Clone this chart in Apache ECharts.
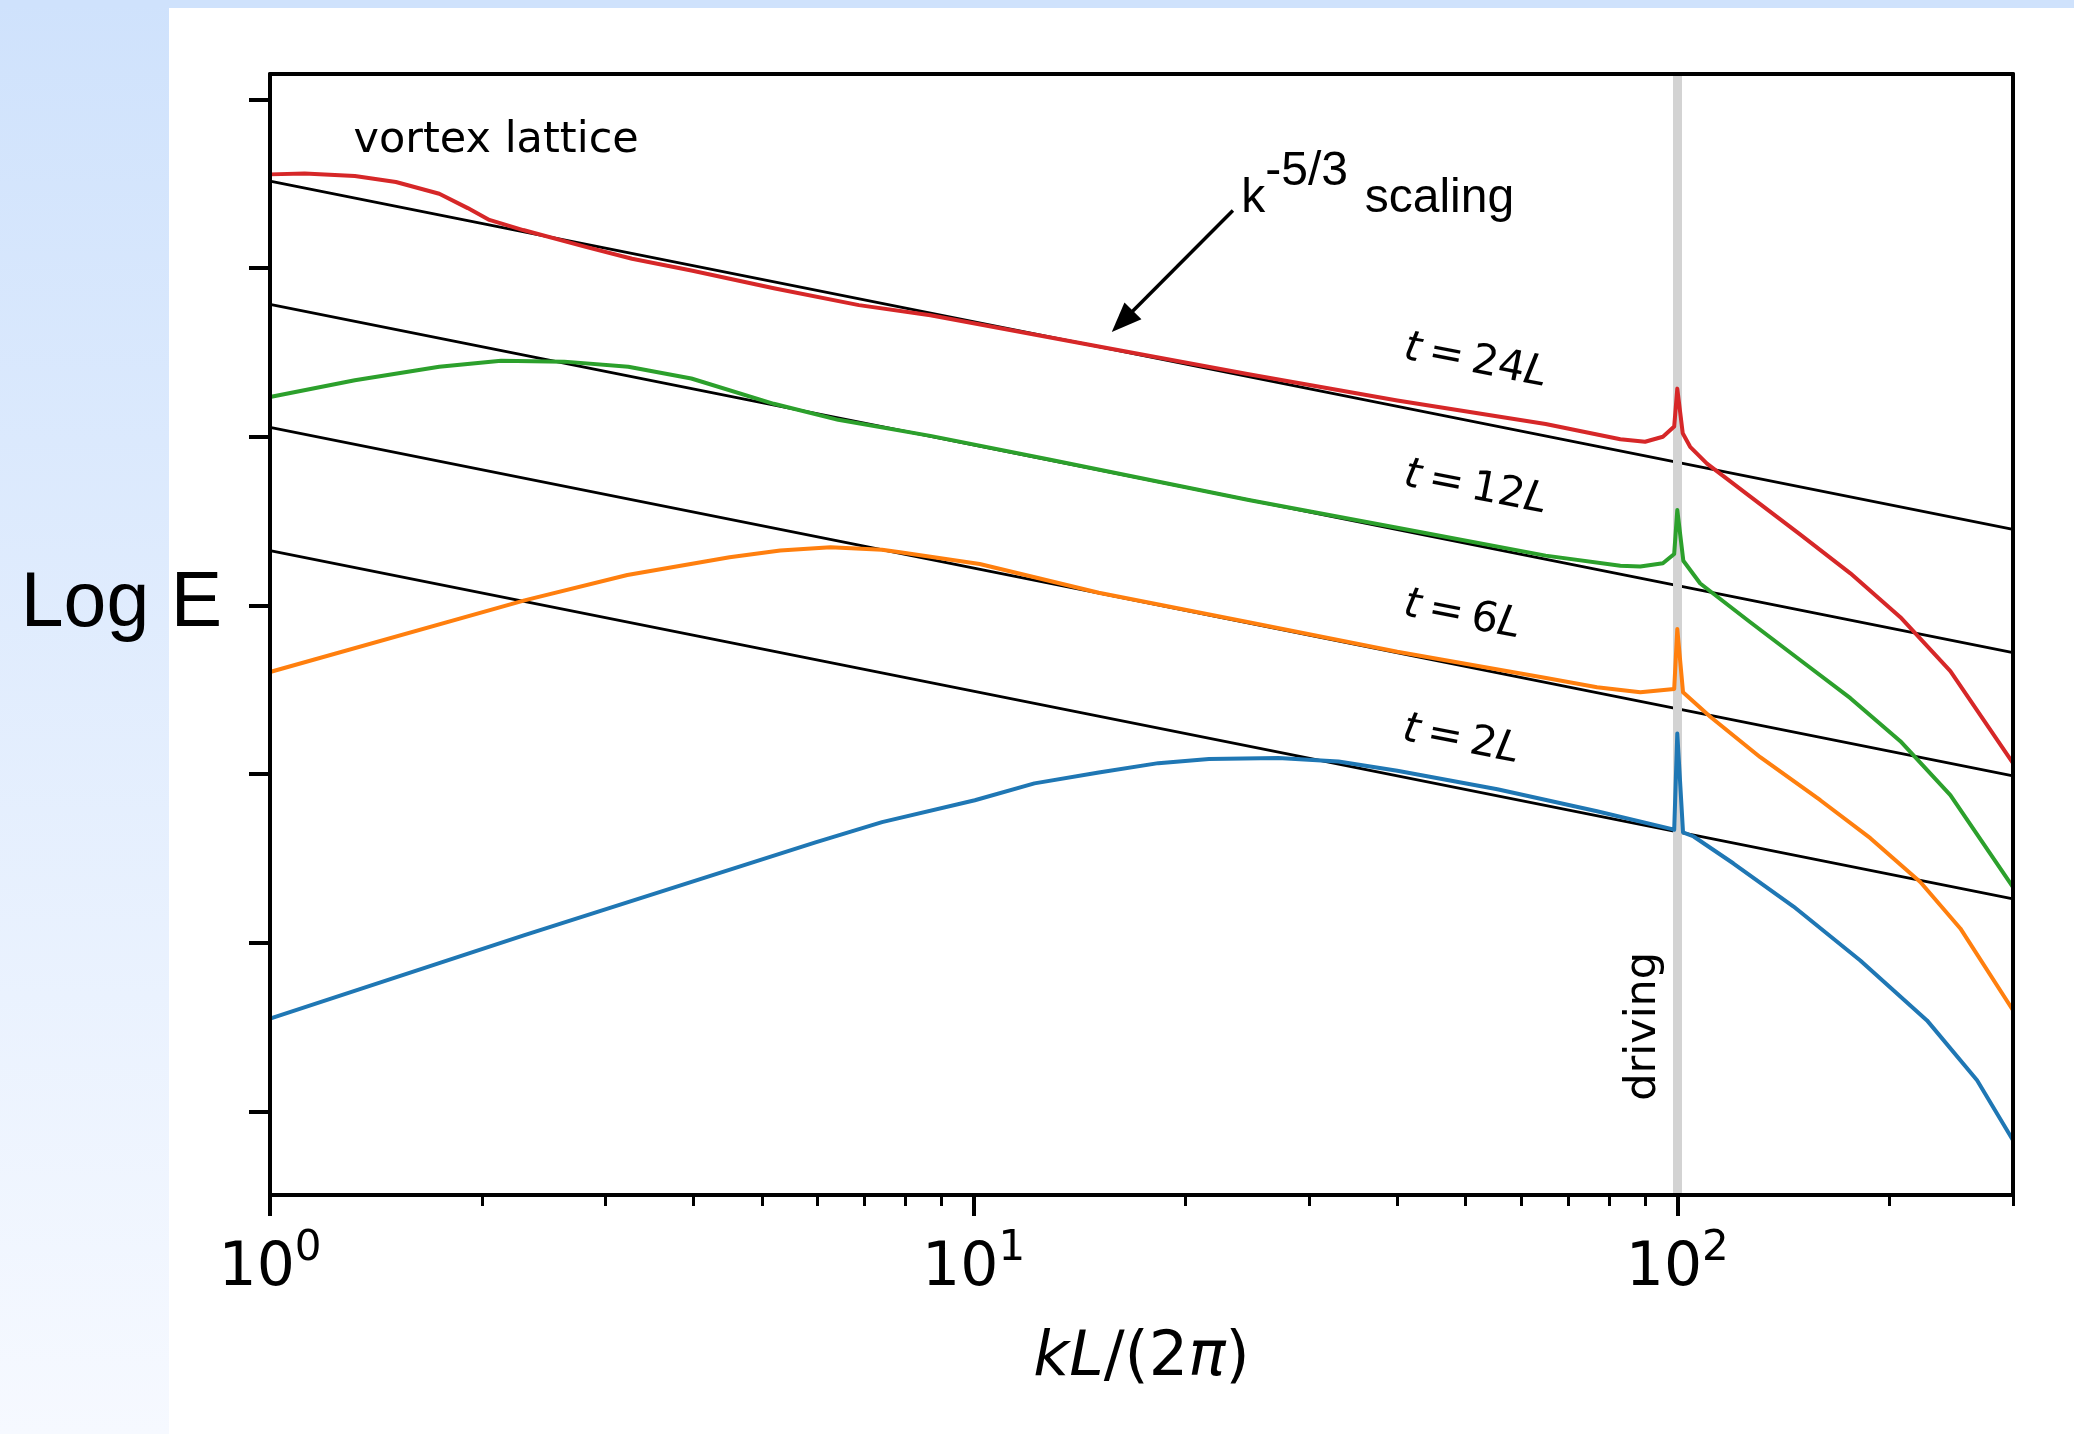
<!DOCTYPE html>
<html><head><meta charset="utf-8">
<script src="https://cdn.jsdelivr.net/npm/echarts@6/dist/echarts.min.js"></script>
<style>
html,body{margin:0;padding:0;background:#fff;}
#bgLeft{position:absolute;left:0;top:0;width:169px;height:1434px;background:linear-gradient(#cfe2fc,#f6f9ff);}
#bgTop{position:absolute;left:0;top:0;width:2074px;height:8px;background:#cfe2fc;}
#chart{position:absolute;left:0;top:0;width:2074px;height:1434px;}
</style></head><body>
<div id="bgLeft"></div><div id="bgTop"></div><div id="chart"></div>
<script>
// ---- tick values ----
const kTicksMajor = [1, 10, 100];
const kTicksMinor = [2,3,4,5,6,7,8,9,20,30,40,50,60,70,80,90,200,300];
const logETicks = [-12,-10,-8,-6,-4,-2,0];
const drivingK = 100;

// ---- k^-5/3 reference lines (endpoints) ----
const refK = [1, 300];
const ref24 = [-0.97, -5.10];
const ref12 = [-2.43, -6.56];
const ref6  = [-3.89, -8.02];
const ref2  = [-5.35, -9.48];

// ---- spectra ----
const k2L = [1, 2.3, 5.96, 7.41, 10.04, 12.2, 15.06, 18.3, 21.6, 27.1, 33, 40, 55.5, 76.9, 98, 99, 100, 101.9, 105.5, 120.2, 146.3, 182, 226.4, 266.7, 300];
const E2L = [-10.90, -9.91, -8.81, -8.57, -8.31, -8.11, -7.98, -7.87, -7.82, -7.81, -7.85, -7.96, -8.18, -8.44, -8.65, -8.66, -7.52, -8.69, -8.74, -9.06, -9.57, -10.21, -10.92, -11.63, -12.34];

const k6L = [1, 2.3, 3.22, 4.5, 5.31, 6.26, 7.41, 7.86, 10.2, 15.06, 24.6, 40, 65.1, 76.9, 88.6, 99, 100, 101.9, 111.4, 131.2, 159.7, 188.1, 221.5, 252.5, 300];
const E6L = [-6.79, -5.94, -5.64, -5.43, -5.35, -5.31, -5.34, -5.37, -5.51, -5.85, -6.20, -6.55, -6.86, -6.97, -7.03, -6.99, -6.28, -7.03, -7.32, -7.80, -8.31, -8.76, -9.28, -9.83, -10.80];

const k12L = [1, 1.32, 1.74, 2.13, 2.62, 3.23, 3.97, 5.2, 6.42, 8.68, 12.8, 24.6, 40, 65, 83, 88.6, 95.4, 99, 100, 102, 107.8, 127, 149.6, 176.2, 207.5, 244.4, 300];
const E12L = [-3.53, -3.33, -3.17, -3.10, -3.11, -3.17, -3.31, -3.61, -3.80, -3.99, -4.27, -4.75, -5.08, -5.41, -5.53, -5.54, -5.50, -5.39, -4.87, -5.47, -5.74, -6.20, -6.65, -7.10, -7.61, -8.25, -9.34];

const k24L = [1, 1.12, 1.32, 1.51, 1.74, 1.91, 2.05, 2.29, 2.81, 3.27, 3.97, 5.2, 6.87, 8.68, 15.06, 24.6, 40, 65, 83, 90, 95.4, 99, 100, 101.8, 104.3, 110.2, 127, 149.6, 176.2, 207.5, 244.4, 300];
const E24L = [-0.89, -0.88, -0.91, -0.98, -1.12, -1.29, -1.43, -1.55, -1.75, -1.89, -2.03, -2.24, -2.44, -2.56, -2.93, -3.26, -3.57, -3.85, -4.03, -4.06, -4.00, -3.88, -3.43, -3.96, -4.12, -4.32, -4.71, -5.16, -5.62, -6.14, -6.78, -7.87];

const pairs = (ks, es) => ks.map((k, i) => [k, es[i]]);

const DV = 'DejaVu Sans';
const LS = 'Liberation Sans';
const AZ = 10;

function lineSeries(name, ks, es, color, width, z) {
  return { type: 'line', name: name, data: pairs(ks, es), symbol: 'none', smooth: false,
    lineStyle: { color: color, width: width, join: 'round', cap: 'round' }, z: z, silent: true, emphasis: { disabled: true } };
}
function txt(coord, text, font, size, extra) {
  return Object.assign({ coord: coord, symbol: 'circle', symbolSize: 1,
    itemStyle: { color: 'rgba(0,0,0,0)' },
    label: Object.assign({ show: true, position: 'inside', formatter: text, fontFamily: font, fontSize: size, color: '#000' }, extra || {}) });
}
const tRich = {
  i: { fontFamily: DV, fontStyle: 'italic', fontSize: 42, color: '#000' },
  n: { fontFamily: DV, fontSize: 42, color: '#000' }
};
function tLabel(coord, num) {
  return txt(coord, '{i|t}{n|\u2009=\u2009' + num + '}{i|L}', DV, 42, { rotate: -11, rich: tRich });
}

const noAxisBits = { axisTick: { show: false }, axisLabel: { show: false }, splitLine: { show: false } };
const option = {
  animation: false,
  backgroundColor: 'transparent',
  grid: { left: 270, right: 61, top: 74, bottom: 239, outerBoundsMode: 'none' },
  xAxis: [
    { type: 'log', logBase: 10, min: 1, max: 300, position: 'bottom', z: AZ,
      axisLine: { show: true, onZero: false, lineStyle: { color: '#000', width: 4 } },
      axisTick: { show: false }, splitLine: { show: false }, minorTick: { show: false },
      axisLabel: { show: true, margin: 33,
        formatter: function (v) {
          for (const t of kTicksMajor) {
            if (Math.abs(v - t) < 1e-6 * t) return '{b|10}{s|' + Math.round(Math.log10(t)) + '}';
          }
          return '';
        },
        rich: {
          b: { fontFamily: DV, fontSize: 60, color: '#000', verticalAlign: 'bottom' },
          s: { fontFamily: DV, fontSize: 42, color: '#000', verticalAlign: 'bottom', padding: [0, 0, 29, 0] }
        }
      },
      name: '{i|k}{i|L}{n|/(2}{i|\u03c0}{n|)}', nameLocation: 'middle', nameGap: 133,
      nameTextStyle: { fontFamily: DV, fontSize: 62, color: '#000',
        rich: {
          i: { fontFamily: DV, fontStyle: 'italic', fontSize: 62, color: '#000' },
          n: { fontFamily: DV, fontSize: 62, color: '#000' }
        } }
    },
    { type: 'value', min: 0, max: Math.log10(300), position: 'bottom', z: AZ,
      axisLine: { show: false, onZero: false }, axisLabel: { show: false }, splitLine: { show: false },
      axisTick: { show: true, customValues: kTicksMajor.map(Math.log10), length: 21, lineStyle: { color: '#000', width: 4 } } },
    { type: 'value', min: 0, max: Math.log10(300), position: 'bottom', z: AZ,
      axisLine: { show: false, onZero: false }, axisLabel: { show: false }, splitLine: { show: false },
      axisTick: { show: true, customValues: kTicksMinor.map(Math.log10), length: 11, lineStyle: { color: '#000', width: 3 } } },
    Object.assign({ type: 'value', min: 0, max: 1, position: 'top', z: AZ,
      axisLine: { show: true, onZero: false, lineStyle: { color: '#000', width: 4 } } }, noAxisBits)
  ],
  yAxis: [
    { type: 'value', min: -12.99, max: 0.3, position: 'left', z: AZ,
      axisLine: { show: true, onZero: false, lineStyle: { color: '#000', width: 4 } },
      axisTick: { show: true, customValues: logETicks, length: 21, lineStyle: { color: '#000', width: 4 } },
      axisLabel: { show: false }, splitLine: { show: false },
      name: 'Log E', nameLocation: 'middle', nameRotate: 0, nameGap: 48,
      nameTextStyle: { fontFamily: LS, fontSize: 77, color: '#000', verticalAlign: 'bottom', lineHeight: 59 } },
    Object.assign({ type: 'value', min: 0, max: 1, position: 'right', z: AZ,
      axisLine: { show: true, onZero: false, lineStyle: { color: '#000', width: 4 } } }, noAxisBits)
  ],
  series: [
    lineSeries('ref24', refK, ref24, '#000', 2.8, 2),
    lineSeries('ref12', refK, ref12, '#000', 2.8, 2),
    lineSeries('ref6', refK, ref6, '#000', 2.8, 2),
    lineSeries('ref2', refK, ref2, '#000', 2.8, 2),
    { type: 'line', data: [], z: 3, silent: true,
      markLine: { z: 3, silent: true, symbol: ['none', 'none'], label: { show: false },
        lineStyle: { color: '#d3d3d3', width: 9, type: 'solid' }, emphasis: { disabled: true },
        data: [{ xAxis: drivingK }] } },
    lineSeries('t = 2L', k2L, E2L, '#1f77b4', 4, 4),
    lineSeries('t = 6L', k6L, E6L, '#ff7f0e', 4, 4),
    lineSeries('t = 12L', k12L, E12L, '#2ca02c', 4, 4),
    lineSeries('t = 24L', k24L, E24L, '#d62728', 4, 4),
    { type: 'line', data: [], z: 6, silent: true,
      markLine: { z: 6, silent: true, symbol: ['none', 'triangle'], symbolSize: [24, 30], label: { show: false },
        lineStyle: { color: '#000', width: 3.5, type: 'solid' }, emphasis: { disabled: true },
        data: [[{ coord: [23.36, -1.318] }, { coord: [16.27, -2.634] }]] },
      markPoint: { z: 6, silent: true, emphasis: { disabled: true },
        data: [
          txt([2.096, -0.489], 'vortex lattice', DV, 43),
          txt([24.0, -1.176], 'k', LS, 48, { align: 'left' }),
          txt([25.97, -0.856], '-5/3', LS, 48, { align: 'left' }),
          txt([35.96, -1.176], 'scaling', LS, 48, { align: 'left' }),
          tLabel([51.7, -3.111], '24'),
          tLabel([51.7, -4.612], '12'),
          tLabel([49.5, -6.122], '6'),
          tLabel([49.3, -7.600], '2'),
          txt([89.7, -10.99], 'driving', DV, 43, { rotate: 90 })
        ] } }
  ]
};
const chart = echarts.init(document.getElementById('chart'), null, { renderer: 'canvas' });
chart.setOption(option);
</script></body></html>
